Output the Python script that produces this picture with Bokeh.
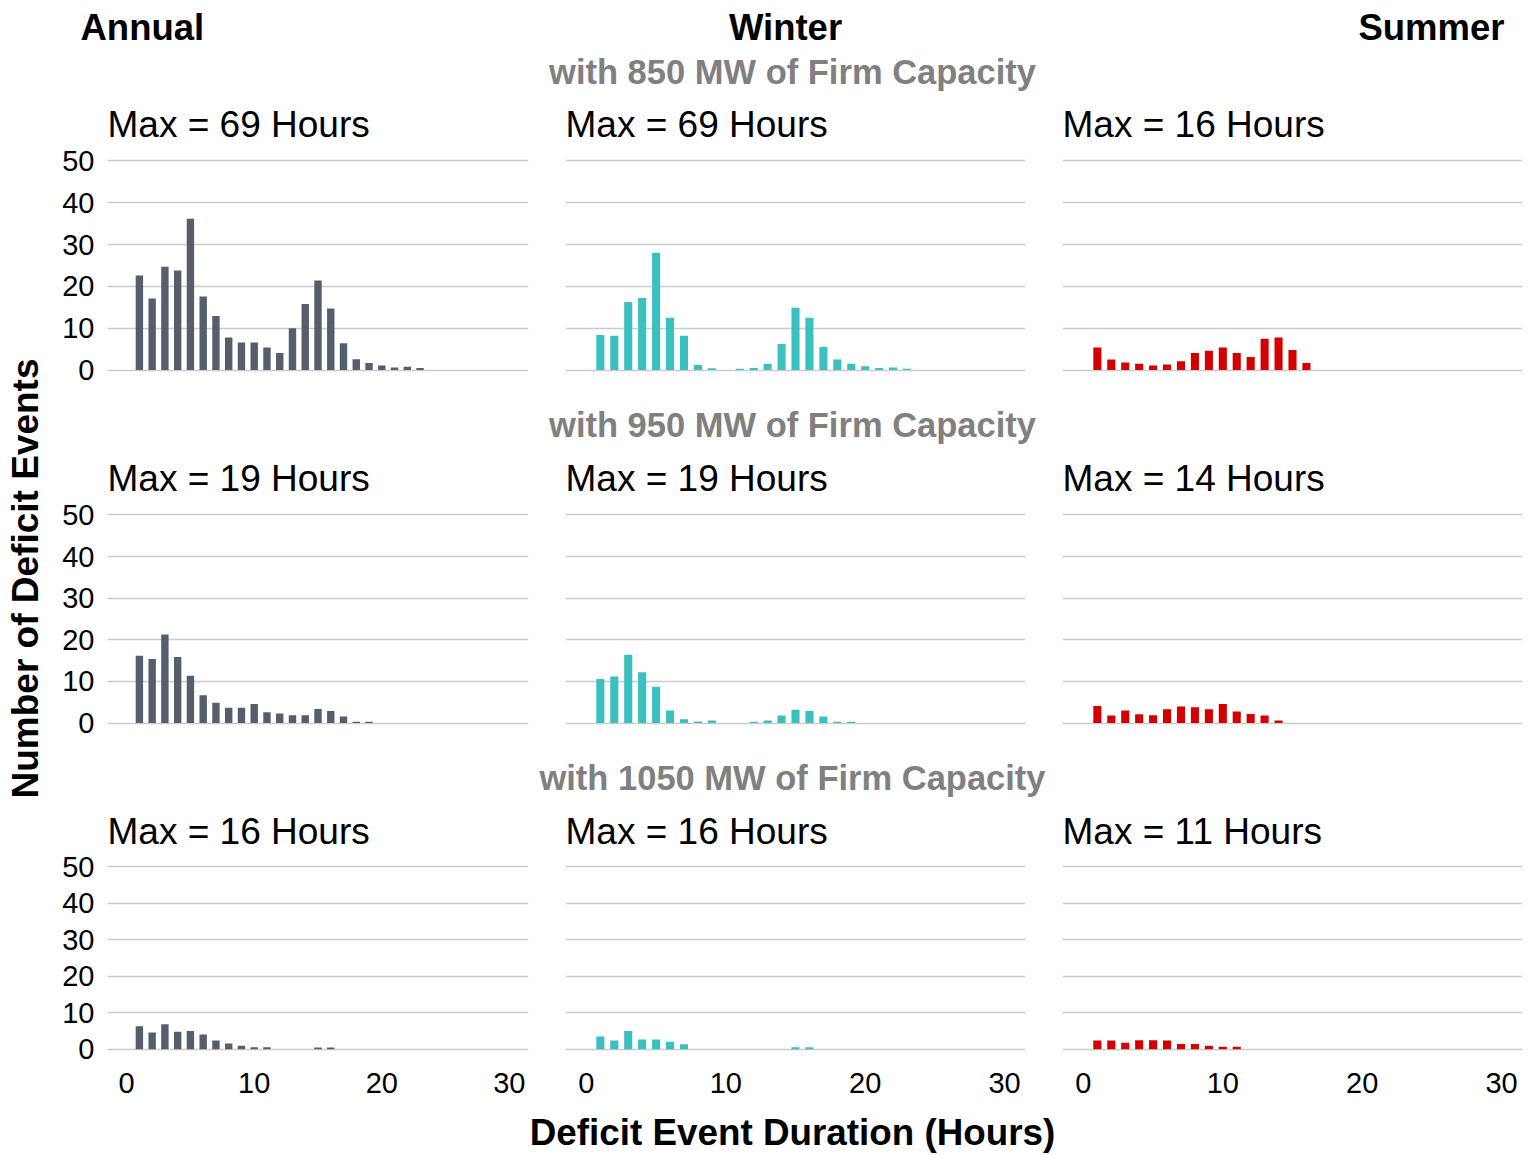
import math
from bokeh.plotting import figure
from bokeh.layouts import row, column
from bokeh.models import Range1d, FixedTicker, Label
from bokeh.embed import file_html
from bokeh.resources import INLINE

FONT = "Liberation Sans"

# ---------------- data ----------------
dur_850_annual = [1, 2, 3, 4, 5, 6, 7, 8, 9, 10, 11, 12, 13, 14, 15, 16, 17, 18, 19, 20, 21, 22, 23]
annual_850 = [22.6, 17.1, 24.7, 23.8, 36.2, 17.6, 12.9, 7.8, 6.6, 6.6, 5.4, 4.1, 10.0, 15.8, 21.4,
              14.7, 6.4, 2.6, 1.7, 1.1, 0.6, 0.8, 0.5]
dur_850_winter = [1, 2, 3, 4, 5, 6, 7, 8, 9, 10, 11, 12, 13, 14, 15, 16, 17, 18, 19, 20, 21, 22, 23]
winter_850 = [8.4, 8.2, 16.3, 17.2, 28.0, 12.5, 8.2, 1.2, 0.4, 0.0, 0.3, 0.5, 1.5, 6.2, 14.9,
              12.5, 5.5, 2.5, 1.5, 0.9, 0.5, 0.6, 0.3]
dur_850_summer = [1, 2, 3, 4, 5, 6, 7, 8, 9, 10, 11, 12, 13, 14, 15, 16]
summer_850 = [5.4, 2.5, 1.8, 1.5, 1.1, 1.3, 2.1, 4.1, 4.6, 5.4, 4.1, 3.1, 7.5, 7.8, 4.8, 1.7]

dur_950_annual = [1, 2, 3, 4, 5, 6, 7, 8, 9, 10, 11, 12, 13, 14, 15, 16, 17, 18, 19]
annual_950 = [16.2, 15.4, 21.3, 15.9, 11.4, 6.7, 4.9, 3.7, 3.7, 4.6, 2.6, 2.3, 1.9, 1.9, 3.4,
              2.9, 1.6, 0.3, 0.3]
dur_950_winter = [1, 2, 3, 4, 5, 6, 7, 8, 9, 10, 11, 12, 13, 14, 15, 16, 17, 18, 19]
winter_950 = [10.6, 11.2, 16.4, 12.2, 8.7, 3.0, 0.9, 0.4, 0.6, 0.0, 0.0, 0.3, 0.6, 1.8, 3.2,
              2.9, 1.6, 0.3, 0.3]
dur_950_summer = [1, 2, 3, 4, 5, 6, 7, 8, 9, 10, 11, 12, 13, 14]
summer_950 = [4.1, 1.8, 3.0, 2.1, 1.9, 3.3, 4.0, 3.8, 3.3, 4.6, 2.8, 2.2, 1.8, 0.6]

dur_1050_annual = [1, 2, 3, 4, 5, 6, 7, 8, 9, 10, 11, 15, 16]
annual_1050 = [6.3, 4.6, 6.9, 4.8, 5.0, 4.1, 2.4, 1.6, 1.0, 0.6, 0.6, 0.5, 0.5]
dur_1050_winter = [1, 2, 3, 4, 5, 6, 7, 15, 16]
winter_1050 = [3.5, 2.4, 5.0, 2.7, 2.7, 2.1, 1.4, 0.6, 0.6]
dur_1050_summer = [1, 2, 3, 4, 5, 6, 7, 8, 9, 10, 11]
summer_1050 = [2.4, 2.4, 1.8, 2.5, 2.5, 2.4, 1.5, 1.5, 1.0, 0.7, 0.7]

max_850 = ["Max = 69 Hours", "Max = 69 Hours", "Max = 16 Hours"]
max_950 = ["Max = 19 Hours", "Max = 19 Hours", "Max = 14 Hours"]
max_1050 = ["Max = 16 Hours", "Max = 16 Hours", "Max = 11 Hours"]

season_labels = ["Annual", "Winter", "Summer"]
capacity_labels = ["with 850 MW of Firm Capacity", "with 950 MW of Firm Capacity",
                   "with 1050 MW of Firm Capacity"]
y_ticks = [0, 10, 20, 30, 40, 50]
x_ticks = [0, 10, 20, 30]

COLORS = ["#565E6C", "#3BC0C0", "#D40000"]

# ---------------- layout geometry ----------------
W = 1536
LEFT_STRIP = 45
COLS = [  # width, min_border_left, min_border_right
    (500, 62, 17),
    (498, 20, 18),
    (493, 19, 14),
]
ROWS = [  # height, border_top, border_bottom
    (295, 55, 10),
    (294, 55, 10),
    (306, 55, 50),
]
TOP_H = 95
SUB_H = 59
BOTTOM_H = 47


def strip(w, h):
    p = figure(width=w, height=h, x_range=Range1d(0, w), y_range=Range1d(h, 0),
               output_backend="svg", toolbar_location=None, min_border=0,
               x_axis_location=None, y_axis_location=None)
    p.outline_line_color = None
    p.grid.visible = False
    p.background_fill_color = "white"
    p.border_fill_color = "white"
    return p


def panel(xs, ys, color, title, ci, ri):
    w, bl, br = COLS[ci]
    h, bt, bb = ROWS[ri]
    show_y = ci == 0
    show_x = ri == 2
    p = figure(width=w, height=h, x_range=Range1d(-1.5, 31.5), y_range=Range1d(-2.5, 52.5),
               output_backend="svg", toolbar_location=None,
               min_border_left=bl, min_border_right=br,
               min_border_top=bt, min_border_bottom=bb,
               x_axis_location="below" if show_x else None,
               y_axis_location="left" if show_y else None)
    p.title.text = title
    p.title.text_font = FONT
    p.title.text_font_size = "37px"
    p.title.text_font_style = "normal"
    p.title.text_color = "black"
    p.title.align = "left"
    p.title.standoff = 12
    p.outline_line_color = None
    p.background_fill_color = "white"
    p.border_fill_color = "white"
    p.xgrid.visible = False
    p.ygrid.ticker = FixedTicker(ticks=y_ticks)
    p.ygrid.grid_line_color = "#CCCCCC"
    p.ygrid.grid_line_width = 1.3
    for ax in p.axis:
        ax.axis_line_color = None
        ax.major_tick_line_color = None
        ax.minor_tick_line_color = None
        ax.major_label_text_font = FONT
        ax.major_label_text_font_size = "29px"
        ax.major_label_text_color = "black"
    if show_y:
        p.yaxis.ticker = FixedTicker(ticks=y_ticks)
        p.yaxis.major_label_standoff = 7
    if show_x:
        p.xaxis.ticker = FixedTicker(ticks=x_ticks)
        p.xaxis.major_label_standoff = 8
    p.vbar(x=xs, top=ys, width=0.58, color=color, line_color=None)
    return p


data = [
    [(dur_850_annual, annual_850), (dur_850_winter, winter_850), (dur_850_summer, summer_850)],
    [(dur_950_annual, annual_950), (dur_950_winter, winter_950), (dur_950_summer, summer_950)],
    [(dur_1050_annual, annual_1050), (dur_1050_winter, winter_1050), (dur_1050_summer, summer_1050)],
]
titles = [max_850, max_950, max_1050]

inner_w = W - LEFT_STRIP
middle_children = []
for ri in range(3):
    if ri > 0:
        s = strip(inner_w, SUB_H)
        s.add_layout(Label(x=792 - LEFT_STRIP, y=34, text=capacity_labels[ri], text_font=FONT,
                           text_font_size="34.5px", text_font_style="bold", text_color="#808080",
                           text_align="center", text_baseline="middle"))
        middle_children.append(s)
    panels = []
    for ci in range(3):
        xs, ys = data[ri][ci]
        panels.append(panel(xs, ys, COLORS[ci], titles[ri][ci], ci, ri))
    middle_children.append(row(*panels))

middle_h = sum(r[0] for r in ROWS) + 2 * SUB_H
left = strip(LEFT_STRIP, middle_h)
left.add_layout(Label(x=25, y=578 - TOP_H, text="Number of Deficit Events", text_font=FONT,
                      text_font_size="37px", text_font_style="bold", text_color="black",
                      text_align="center", text_baseline="middle", angle=math.pi / 2))

top = strip(W, TOP_H)
top.add_layout(Label(x=80, y=27, text=season_labels[0], text_font=FONT, text_font_size="36.5px",
                     text_font_style="bold", text_color="black", text_align="left",
                     text_baseline="middle"))
top.add_layout(Label(x=785, y=27, text=season_labels[1], text_font=FONT, text_font_size="36.5px",
                     text_font_style="bold", text_color="black", text_align="center",
                     text_baseline="middle"))
top.add_layout(Label(x=1504, y=27, text=season_labels[2], text_font=FONT, text_font_size="36.5px",
                     text_font_style="bold", text_color="black", text_align="right",
                     text_baseline="middle"))
top.add_layout(Label(x=792, y=71, text=capacity_labels[0], text_font=FONT,
                     text_font_size="34.5px", text_font_style="bold", text_color="#808080",
                     text_align="center", text_baseline="middle"))

bottom = strip(W, BOTTOM_H)
bottom.add_layout(Label(x=792, y=24, text="Deficit Event Duration (Hours)", text_font=FONT,
                        text_font_size="36.8px", text_font_style="bold", text_color="black",
                        text_align="center", text_baseline="middle"))

layout = column(top, row(left, column(*middle_children)), bottom)

open("out.html", "w").write(file_html(layout, INLINE))
